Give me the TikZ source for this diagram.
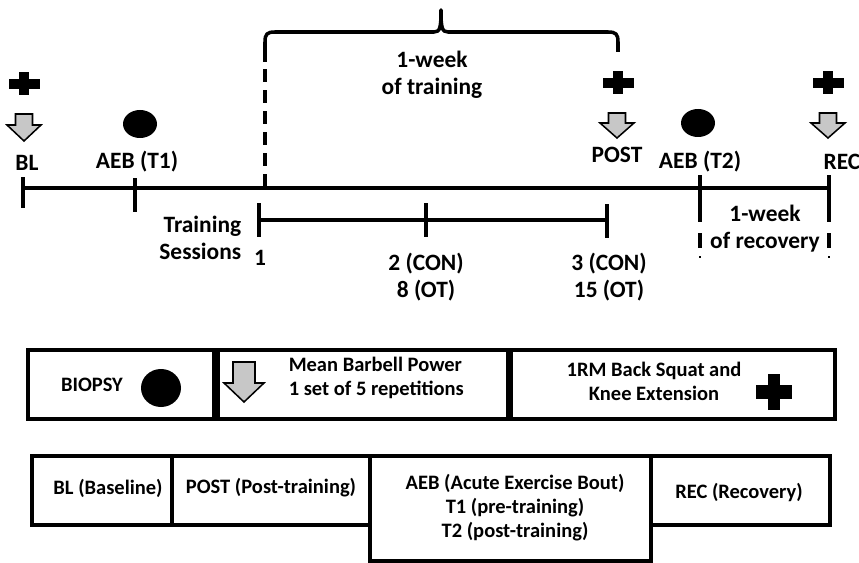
\documentclass[tikz,border=0pt]{standalone}
\usepackage{fontspec}
\setmainfont{Carlito}
\usepackage{tikz}
\usetikzlibrary{calc}

% plus sign: x, y, width, height
\newcommand{\plusmark}[4]{%
  \fill (#1-#3/2,#2-#4/5) rectangle (#1+#3/2,#2+#4/5);
  \fill (#1-#3/6,#2-#4/2) rectangle (#1+#3/6,#2+#4/2);
}
% grey down arrow: x, top y, shaft half width, shaft length, head half width, head length
\newcommand{\testarrow}[6]{%
  \draw [fill=black!22, line width=1.3pt, line join=miter]
    (#1-#3,#2) -- (#1+#3,#2) -- (#1+#3,#2+#4) -- (#1+#5,#2+#4)
    -- (#1,#2+#4+#6) -- (#1-#5,#2+#4) -- (#1-#3,#2+#4) -- cycle;
}

\begin{document}
\begin{tikzpicture}[x=0.03cm, y=-0.03cm, line width=3pt,
  lab/.style={font=\fontsize{20}{23}\selectfont\bfseries, align=center, inner sep=0pt},
  boxlab/.style={font=\fontsize{17.5}{20.5}\selectfont\bfseries, align=center, inner sep=0pt}]
  \useasboundingbox (0,0) rectangle (859,563);

  % main timeline
  \draw (22,188) -- (829,188);
  \draw (23,177) -- (23,208);
  \draw (135,178) -- (135,212);
  \draw (700,175) -- (700,222);
  \draw (829,175) -- (829,222);
  \draw (700,233) -- (700,248);
  \draw (829,233) -- (829,248);
  \draw [line width=1pt] (700,256) -- (700,258);
  \draw [line width=1pt] (829,256) -- (829,258);

  % training sessions
  \draw (259,220) -- (607,220);
  \draw (259,203) -- (259,237);
  \draw (426,203) -- (426,237);
  \draw (607,204) -- (607,238);

  % brace over the training week
  \draw [dash pattern=on 11pt off 7pt] (265,187) -- (265,62);
  \draw [line join=round] (265,62) -- (265,42) .. controls (265,34) and (267,32) .. (275,32)
    -- (434,32) .. controls (440,32) and (441,28) .. (441,10)
    .. controls (441,28) and (442,32) .. (448,32)
    -- (608,32) .. controls (616,32) and (618,34) .. (618,42) -- (618,52);

  % marks above the timeline
  \plusmark{24}{84}{31}{23}
  \plusmark{618}{83}{31}{23}
  \plusmark{828}{83}{31}{23}
  \testarrow{24}{114}{8.5}{11}{17}{16}
  \testarrow{617}{113}{8.5}{10}{17}{15}
  \testarrow{828}{113}{8.5}{10}{17}{15}
  \fill (140,124) ellipse [x radius=17, y radius=14];
  \fill (698,123) ellipse [x radius=17, y radius=14];

  \node (bl) at (27,163) [lab] {BL};
  \node (aebone) at (137,162) [lab] {AEB (T1)};
  \node (post) at (617,155) [lab] {POST};
  \node (aebtwo) at (700,162) [lab] {AEB (T2)};
  \node (rec) at (842,162) [lab] {REC};
  \node (week) at (432,75) [lab] {1-week\\of training};
  \node (sessions) at (243,238) [lab, anchor=east, align=right] {Training\\Sessions};
  \node (sone) at (260,258) [lab] {1};
  \node (stwo) at (426,277) [lab] {2 (CON)\\8 (OT)};
  \node (sthree) at (609,277) [lab] {3 (CON)\\15 (OT)};
  \node (recweek) at (765,229) [lab] {1-week\\of recovery};

  % legend
  \draw (28,350) rectangle (214,419);
  \draw (218,350) rectangle (508,419);
  \draw (511,350) rectangle (835,419);
  \node (biopsy) at (92,385) [boxlab] {BIOPSY};
  \fill (161,388) ellipse [x radius=20, y radius=19];
  \testarrow{244}{362}{11}{21}{20}{19}
  \node (power) at (287,378) [boxlab, anchor=west, align=left] {Mean Barbell Power\\1 set of 5 repetitions};
  \node (squat) at (654,381) [boxlab] {1RM Back Squat and\\Knee Extension};
  \plusmark{774}{392}{36}{36}

  % abbreviations
  \draw (32,456) rectangle (172,525);
  \draw (172,456) rectangle (370,525);
  \draw (370,456) rectangle (651,561);
  \draw (651,456) rectangle (830,525);
  \node (baseline) at (108,488) [boxlab] {BL (Baseline)};
  \node (posttr) at (271,488) [boxlab] {POST (Post-training)};
  \node (bout) at (515,508) [boxlab] {AEB (Acute Exercise Bout)\\T1 (pre-training)\\T2 (post-training)};
  \node (recovery) at (739,492) [boxlab] {REC (Recovery)};
\end{tikzpicture}
\end{document}
